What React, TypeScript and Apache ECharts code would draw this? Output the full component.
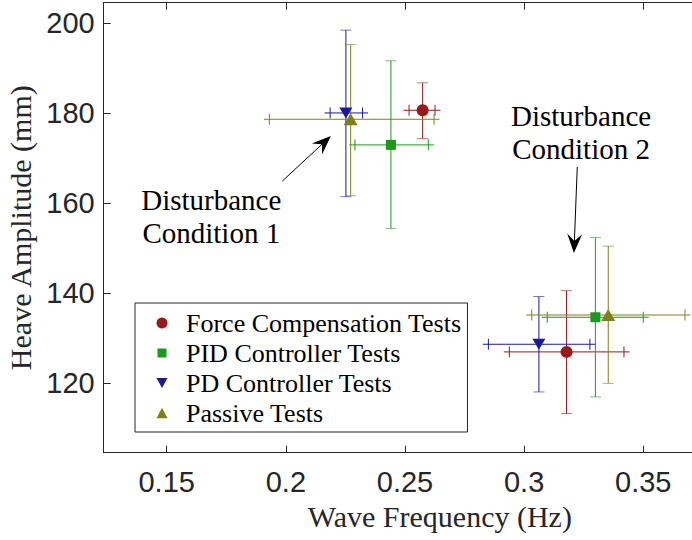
import React, { useEffect, useRef } from "react";
import * as echarts from "echarts";

// ---- data ----
const seriesNames = [
  "Force Compensation Tests",
  "PID Controller Tests",
  "PD Controller Tests",
  "Passive Tests",
];
const seriesColors = ["#991a1a", "#1a991a", "#1a1a99", "#80801a"];

// [Disturbance Condition 1, Disturbance Condition 2]
const forceFreq = [0.2574, 0.3178];
const forceAmp = [180.7, 127.0];
const forceFreqLow = [0.2517, 0.2938];
const forceFreqHigh = [0.2626, 0.3419];
const forceAmpLow = [174.4, 113.3];
const forceAmpHigh = [186.8, 140.6];

const pidFreq = [0.2441, 0.3299];
const pidAmp = [173.0, 134.7];
const pidFreqLow = [0.229, 0.3097];
const pidFreqHigh = [0.2598, 0.35];
const pidAmpLow = [154.4, 117.0];
const pidAmpHigh = [191.7, 152.4];

const pdFreq = [0.2252, 0.3062];
const pdAmp = [180.1, 128.7];
const pdFreqLow = [0.2186, 0.285];
const pdFreqHigh = [0.2322, 0.3276];
const pdAmpLow = [161.5, 118.1];
const pdAmpHigh = [198.5, 139.3];

const passiveFreq = [0.2272, 0.3353];
const passiveAmp = [178.7, 135.2];
const passiveFreqLow = [0.1931, 0.3032];
const passiveFreqHigh = [0.2622, 0.3675];
const passiveAmpLow = [161.7, 120.0];
const passiveAmpHigh = [195.3, 150.5];

const xTickLabels = ["0.15", "0.2", "0.25", "0.3", "0.35"];
const yTickLabels = ["120", "140", "160", "180", "200"];

// annotations (data coordinates)
const annotationTexts = ["Disturbance\nCondition 1", "Disturbance\nCondition 2"];
const annotationTextAt = [
  [0.1687, 157.1],
  [0.3239, 175.7],
];
const arrowTail = [
  [0.1985, 164.96],
  [0.3223, 168.1],
];
const arrowHead = [
  [0.2189, 174.96],
  [0.3209, 149.0],
];

const groups = [
  { freq: forceFreq, amp: forceAmp, fl: forceFreqLow, fh: forceFreqHigh, al: forceAmpLow, ah: forceAmpHigh, symbol: "circle", size: 12, rotate: 0 },
  { freq: pidFreq, amp: pidAmp, fl: pidFreqLow, fh: pidFreqHigh, al: pidAmpLow, ah: pidAmpHigh, symbol: "rect", size: 10, rotate: 0 },
  { freq: pdFreq, amp: pdAmp, fl: pdFreqLow, fh: pdFreqHigh, al: pdAmpLow, ah: pdAmpHigh, symbol: "triangle", size: [13, 11], rotate: 180 },
  { freq: passiveFreq, amp: passiveAmp, fl: passiveFreqLow, fh: passiveFreqHigh, al: passiveAmpLow, ah: passiveAmpHigh, symbol: "triangle", size: [14, 12], rotate: 0 },
];

// legend icons: a 38x11 box (invisible corner moves) holding a small centred glyph
const legendIcons = [
  "circle",
  "path://M0 0M38 11M14.5 1L23.5 1L23.5 10L14.5 10Z",
  "path://M0 0M38 11M13.5 0.5L24.5 0.5L19 10.5Z",
  "path://M0 0M38 11M19 0.3L24.5 10.7L13.5 10.7Z",
];

const AXIS_COLOR = "#262626";
const SANS = "'Liberation Sans', Arial, Helvetica, sans-serif";
const SERIF = "'Liberation Serif', 'Times New Roman', Times, serif";

export default function App() {
  const ref = useRef<HTMLDivElement>(null);

  useEffect(() => {
    if (!ref.current) return;
    const chart = echarts.init(ref.current, null, { renderer: "svg" });

    const errorSeries = groups.map((g, i) => ({
      type: "custom",
      name: "err" + i,
      silent: true,
      z: 2,
      encode: { x: 0, y: 1 },
      data: g.freq.map((f, k) => [f, g.amp[k], g.fl[k], g.fh[k], g.al[k], g.ah[k]]),
      renderItem: (params: any, api: any) => {
        const color = seriesColors[i];
        const x = api.value(0);
        const y = api.value(1);
        const c = api.coord([x, y]);
        const pxl = api.coord([api.value(2), y]);
        const pxh = api.coord([api.value(3), y]);
        const pyl = api.coord([x, api.value(4)]);
        const pyh = api.coord([x, api.value(5)]);
        const cap = 5.5;
        const ext = 5.5;
        const st = { stroke: color, lineWidth: 1 };
        const stCap = { stroke: color, lineWidth: 1, opacity: 0.6 };
        return {
          type: "group",
          children: [
            { type: "line", shape: { x1: pxl[0] - ext, y1: c[1], x2: pxh[0] + ext, y2: c[1] }, style: st },
            { type: "line", shape: { x1: pxl[0], y1: c[1] - cap, x2: pxl[0], y2: c[1] + cap }, style: st },
            { type: "line", shape: { x1: pxh[0], y1: c[1] - cap, x2: pxh[0], y2: c[1] + cap }, style: st },
            { type: "line", shape: { x1: c[0], y1: pyl[1], x2: c[0], y2: pyh[1] }, style: st },
            { type: "line", shape: { x1: c[0] - cap, y1: pyl[1], x2: c[0] + cap, y2: pyl[1] }, style: stCap },
            { type: "line", shape: { x1: c[0] - cap, y1: pyh[1], x2: c[0] + cap, y2: pyh[1] }, style: stCap },
          ],
        };
      },
    }));

    const markerSeries = groups.map((g, i) => ({
      type: "scatter",
      name: seriesNames[i],
      z: 3,
      symbol: g.symbol,
      symbolSize: g.size,
      symbolRotate: g.rotate,
      itemStyle: { color: seriesColors[i], opacity: 1 },
      data: g.freq.map((f, k) => [f, g.amp[k]]),
    }));

    const xMin = 0.12356;
    const xMax = 0.4057;
    const yMin = 104.6;
    const yMax = 204.6;

    const axisCommon = {
      axisLine: { show: true, lineStyle: { color: AXIS_COLOR, width: 1 } },
      axisTick: { show: true, inside: true, length: 7, lineStyle: { color: AXIS_COLOR, width: 1 } },
      splitLine: { show: false },
    };

    chart.setOption({
      animation: false,
      backgroundColor: "#ffffff",
      grid: {
        left: 103.7,
        top: 2.7,
        right: -84,
        bottom: 87.3,
        containLabel: false,
        outerBoundsMode: "none",
      },
      xAxis: [
        {
          type: "value",
          min: xMin,
          max: xMax,
          splitNumber: 5,
          minInterval: 0.05,
          maxInterval: 0.05,
          ...axisCommon,
          name: "Wave Frequency (Hz)",
          nameLocation: "middle",
          nameGap: 47,
          nameTextStyle: { fontFamily: SERIF, fontSize: 30, color: AXIS_COLOR },
          axisLabel: {
            show: true,
            margin: 15,
            showMinLabel: false,
            showMaxLabel: false,
            fontFamily: SANS,
            fontSize: 29,
            color: AXIS_COLOR,
            formatter: (v: number) => {
              const s = String(+v.toFixed(4));
              return xTickLabels.includes(s) ? s : "";
            },
          },
        },
        {
          type: "value",
          position: "top",
          min: xMin,
          max: xMax,
          splitNumber: 5,
          minInterval: 0.05,
          maxInterval: 0.05,
          ...axisCommon,
          axisLabel: { show: false },
        },
      ],
      yAxis: [
        {
          type: "value",
          min: yMin,
          max: yMax,
          splitNumber: 5,
          minInterval: 20,
          maxInterval: 20,
          ...axisCommon,
          name: "Heave Amplitude (mm)",
          nameLocation: "middle",
          nameGap: 62,
          nameRotate: 90,
          nameTextStyle: { fontFamily: SERIF, fontSize: 30, color: AXIS_COLOR },
          axisLabel: {
            show: true,
            margin: 9,
            showMinLabel: false,
            showMaxLabel: false,
            fontFamily: SANS,
            fontSize: 29,
            color: AXIS_COLOR,
            formatter: (v: number) => {
              const s = String(Math.round(v));
              return yTickLabels.includes(s) && Math.abs(v - Math.round(v)) < 1e-6 ? s : "";
            },
          },
        },
        {
          type: "value",
          position: "right",
          min: yMin,
          max: yMax,
          splitNumber: 5,
          minInterval: 20,
          maxInterval: 20,
          ...axisCommon,
          axisLabel: { show: false },
        },
      ],
      legend: {
        data: seriesNames.map((n, i) => ({ name: n, icon: legendIcons[i] })),
        orient: "vertical",
        left: 135,
        top: 303,
        padding: [7, 6, 6, 8],
        itemGap: 4,
        itemWidth: 38,
        itemHeight: 11,
        symbolRotate: 0,
        borderColor: AXIS_COLOR,
        borderWidth: 1,
        borderRadius: 0,
        backgroundColor: "#ffffff",
        selectedMode: false,
        textStyle: { fontFamily: SERIF, fontSize: 26, color: "#000000" },
      },
      series: [...errorSeries, ...markerSeries],
    });

    // annotations placed from data coordinates
    const graphics: any[] = [];
    annotationTexts.forEach((t, i) => {
      const p = chart.convertToPixel({ gridIndex: 0 }, annotationTextAt[i]) as number[];
      graphics.push({
        type: "text",
        x: p[0],
        y: p[1],
        z: 10,
        style: {
          text: t,
          fontFamily: SERIF,
          fontSize: 29,
          lineHeight: 33.3,
          fill: "#000000",
          align: "center",
          verticalAlign: "middle",
        },
      });
      const a = chart.convertToPixel({ gridIndex: 0 }, arrowTail[i]) as number[];
      const b = chart.convertToPixel({ gridIndex: 0 }, arrowHead[i]) as number[];
      const dx = b[0] - a[0];
      const dy = b[1] - a[1];
      const len = Math.sqrt(dx * dx + dy * dy);
      const ux = dx / len;
      const uy = dy / len;
      const nx = -uy;
      const ny = ux;
      const L = 19;
      const W = 7.5;
      const N = 12;
      const back = [b[0] - ux * L, b[1] - uy * L];
      const notch = [b[0] - ux * N, b[1] - uy * N];
      graphics.push({
        type: "line",
        z: 10,
        shape: { x1: a[0], y1: a[1], x2: notch[0], y2: notch[1] },
        style: { stroke: "#000000", lineWidth: 1 },
      });
      graphics.push({
        type: "polygon",
        z: 10,
        shape: {
          points: [
            [b[0], b[1]],
            [back[0] + nx * W, back[1] + ny * W],
            [notch[0], notch[1]],
            [back[0] - nx * W, back[1] - ny * W],
          ],
        },
        style: { fill: "#000000" },
      });
    });
    chart.setOption({ graphic: graphics });

    return () => {
      chart.dispose();
    };
  }, []);

  return (
    <div
      ref={ref}
      style={{
        position: "fixed",
        left: 0,
        top: 0,
        width: 692,
        height: 540,
        overflow: "hidden",
        background: "#ffffff",
      }}
    />
  );
}
